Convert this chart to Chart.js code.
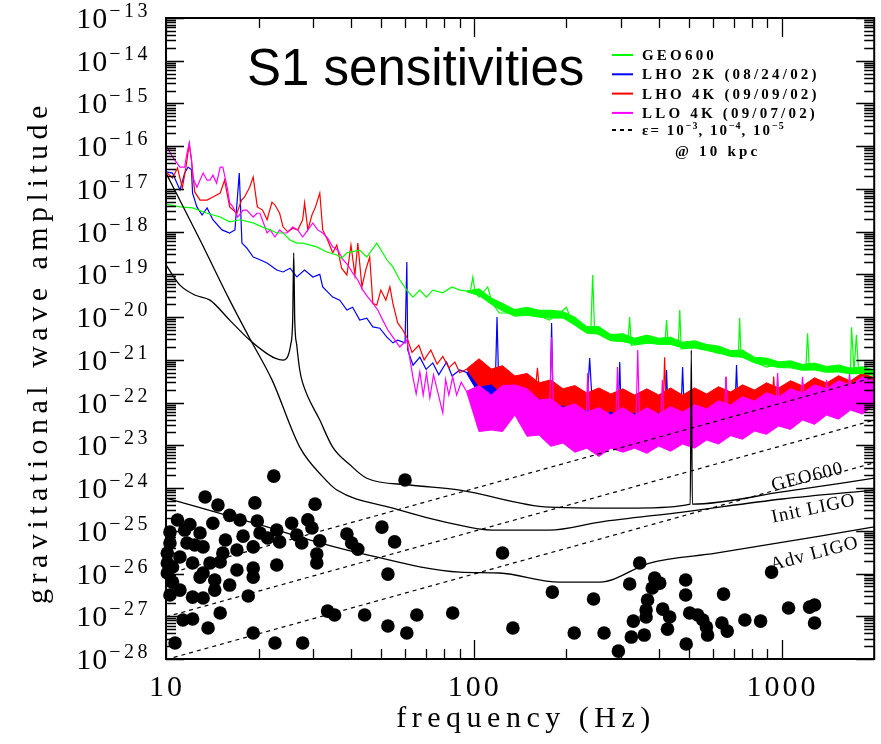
<!DOCTYPE html>
<html>
<head>
<meta charset="utf-8">
<title>S1 sensitivities</title>
<script src="https://cdn.jsdelivr.net/npm/chart.js@4.4.1/dist/chart.umd.min.js"></script>
<style>
  html, body { margin: 0; padding: 0; background: #fff; }
  #wrap { width: 881px; height: 744px; }
</style>
</head>
<body>
<div id="wrap"><canvas id="s1-chart" width="881" height="744"></canvas></div>
<script>
// axes
var xTickValues = [10, 100, 1000];
var xTickLabels = ['10', '100', '1000'];
var yTickExp = [-13, -14, -15, -16, -17, -18, -19, -20, -21, -22, -23, -24, -25, -26, -27, -28];

// legend
var legendLabels = ['GEO600', 'LHO 2K (08/24/02)', 'LHO 4K (09/09/02)', 'LLO 4K (09/07/02)'];
var epsExp = ['\u22123', '\u22124', '\u22125'];
var curveLabels = ['GEO600', 'Init LIGO', 'Adv LIGO'];

// measured spectra, center trace (Hz, strain/rtHz)
var geoFreq = [10, 11.1, 12.2, 13.6, 15.0, 16.1, 17.4, 19.2, 20.6, 21.8, 22.9, 24.0, 25.3, 26.6, 27.8, 30.9, 33.3, 35.9, 37.2, 38.7,
  42.6, 44.9, 48.4, 52.2, 54.6, 57.5, 60.6, 63.4, 66.8, 70.2, 73.6, 79.3, 84.9, 90.1, 97.5, 99.3, 101, 104, 111, 115,
  121, 138, 155, 176, 190, 200, 209, 225, 240, 243.4, 247, 277, 317, 321, 325, 373, 418, 423, 428, 462,
  467, 472, 555, 614, 724, 731, 738, 894, 1005, 1200, 1215, 1230, 1455, 1675, 1688, 1720, 1750, 1780, 2000];
var geoAmp = [4.4e-18, 3.8e-18, 3.6e-18, 2.7e-18, 2.2e-18, 1.7e-18, 1.9e-18, 1.6e-18, 1.28e-18, 1.1e-18, 9.3e-19, 9.3e-19, 6.4e-19, 5.4e-19, 5.4e-19, 4.4e-19, 3.35e-19, 2.85e-19, 2.4e-19, 3.2e-19,
  3.7e-19, 2.55e-19, 5.4e-19, 2.2e-19, 1.5e-19, 7.4e-20, 4.3e-20, 2.95e-20, 4.3e-20, 2.95e-20, 4.3e-20, 3.7e-20, 5.1e-20, 4.3e-20, 4.0e-20, 8.7e-20, 3.8e-20, 2.95e-20, 5.1e-20, 2.1e-20,
  1.25e-20, 1.25e-20, 1.25e-20, 8.5e-21, 1.25e-20, 1.7e-20, 7.3e-21, 5.0e-21, 4.6e-21, 9.7e-20, 4.4e-21, 2.9e-21, 2.6e-21, 1.0e-20, 2.2e-21, 2.5e-21, 2.4e-21, 8.5e-21, 2.4e-21, 2.4e-21,
  1.47e-20, 1.8e-21, 2.0e-21, 1.45e-21, 1.3e-21, 9.5e-21, 1.2e-21, 6.8e-22, 8.5e-22, 7.0e-22, 4.2e-21, 6.5e-22, 5.8e-22, 5.6e-22, 5.8e-21, 5.4e-22, 3.8e-21, 5.3e-22, 5.0e-22];

var lho2kFreq = [10, 10.5, 11.1, 11.5, 11.8, 12.1, 12.2, 12.6, 13.1, 13.6, 14.2, 15.2, 16.1, 16.75, 17.3, 17.65, 18.3, 19.2, 20.2, 21.3,
  22.9, 24.0, 25.3, 26.6, 28.2, 30.0, 31.6, 32.3, 34.8, 36.7, 38.7, 40.4, 42.6, 44.9, 47.0, 49.5, 52.2, 54.6, 56.6, 59.8,
  60.6, 61.0, 63.5, 66.8, 70, 73.6, 77, 81.6, 85, 90.0, 104, 114, 117.5, 119, 120.5, 124, 136, 163, 177, 179,
  181, 195, 233, 238, 243, 279, 295, 298, 301, 333, 399, 419, 423, 427, 472, 477, 482, 571, 707, 714,
  721, 1070, 1532, 2000];
var lho2kAmp = [2.5e-17, 2.35e-17, 9.4e-18, 2.35e-17, 3.25e-17, 2.8e-17, 8.0e-18, 3.8e-18, 2.45e-18, 3.6e-18, 1.9e-18, 1.1e-18, 9.3e-19, 1.1e-18, 2.35e-17, 5.4e-19, 4.15e-19, 2.55e-19, 2.2e-19, 1.85e-19,
  1.27e-19, 1.14e-19, 1.4e-19, 8.7e-20, 1.27e-19, 8.7e-20, 1.0e-19, 5.1e-20, 2.95e-20, 2.5e-20, 1.47e-20, 1.7e-20, 8.5e-21, 9.5e-21, 5.9e-21, 5.5e-21, 3.4e-21, 2.5e-21, 2.9e-21, 2.5e-21,
  1.95e-19, 1.7e-21, 7.5e-22, 1.16e-21, 6.0e-22, 8.5e-22, 4.5e-22, 8.9e-22, 4.2e-22, 5.8e-22, 4.0e-22, 3.2e-22, 2.9e-22, 1.0e-20, 2.8e-22, 2.2e-22, 1.5e-22, 1.0e-22, 9.0e-23, 7.3e-21,
  8.8e-23, 7.9e-23, 7.5e-23, 1.1e-21, 7.5e-23, 7.5e-23, 7.3e-23, 8.9e-22, 7.2e-23, 6.4e-23, 7.5e-23, 7.8e-23, 5.8e-22, 7.8e-23, 8.3e-23, 6.8e-22, 8.4e-23, 9.3e-23, 1.0e-22, 7.6e-22,
  1.0e-22, 1.4e-22, 2.0e-22, 2.45e-22];

var lho4kFreq = [10, 10.5, 10.9, 11.3, 11.6, 11.9, 12.1, 12.4, 12.9, 13.6, 14.2, 15.0, 15.5, 16.1, 17.0, 17.6, 18.0, 18.7, 19.2, 19.8,
  20.6, 21.3, 22.1, 22.6, 23.4, 24.0, 24.9, 25.8, 26.8, 27.8, 28.2, 28.9, 29.8, 30.6, 31.6, 32.3, 33.5, 34.8, 35.9, 37.2,
  38.7, 39.9, 41.1, 42.0, 43.3, 44.6, 45.9, 47.0, 48.4, 49.9, 51.8, 53.4, 54.6, 56.6, 58.8, 60.6, 63, 66.3, 69, 72.5,
  76, 79.3, 83, 86.8, 90, 94.9, 104, 114, 124, 136, 159, 161, 163, 178, 213, 255, 305, 365, 413, 417,
  421, 477, 571, 655, 660, 665, 747, 935, 943, 951, 1070, 1280, 1532, 1832, 2000];
var lho4kAmp = [2.5e-17, 1.8e-17, 3.1e-17, 1.05e-17, 3.1e-17, 1.13e-16, 4.75e-17, 8.5e-18, 5.5e-18, 5.5e-18, 6.5e-18, 8.0e-18, 1.6e-17, 3.8e-18, 2.7e-18, 5.5e-18, 6.5e-18, 1.1e-17, 1.9e-17, 3.8e-18,
  3.2e-18, 1.9e-18, 4.9e-18, 4.2e-18, 2.7e-18, 1.3e-18, 9.8e-19, 1.2e-18, 1.1e-18, 1.9e-18, 4.7e-18, 1.1e-18, 2.45e-18, 3.8e-18, 8.0e-18, 1.1e-18, 6.4e-19, 3.2e-19, 4.9e-19, 1.4e-19,
  9.7e-20, 4.9e-19, 9.7e-20, 5.4e-19, 5.1e-20, 1.3e-19, 2.55e-19, 2.1e-20, 1.9e-20, 4.3e-20, 2.5e-20, 5.1e-20, 2.1e-20, 7.3e-21, 5.0e-21, 3.4e-21, 1.5e-21, 2.2e-21, 1.0e-21, 1.7e-21,
  8.0e-22, 1.2e-21, 6.5e-22, 8.9e-22, 5.0e-22, 6.1e-22, 5.2e-22, 4.0e-22, 3.4e-22, 2.9e-22, 2.5e-22, 6.5e-22, 2.4e-22, 1.8e-22, 1.15e-22, 1.0e-22, 1.0e-22, 1.0e-22, 1.0e-22, 1.15e-21,
  1.0e-22, 1.0e-22, 1.0e-22, 1.1e-22, 4.0e-22, 1.1e-22, 1.15e-22, 1.4e-22, 4.1e-22, 1.4e-22, 1.5e-22, 1.9e-22, 2.1e-22, 2.45e-22, 2.6e-22];

var llo4kFreq = [10, 10.5, 11.1, 11.5, 11.7, 11.9, 12.1, 12.2, 12.6, 13.2, 13.6, 13.9, 14.2, 14.6, 15.0, 15.3, 15.8, 16.1, 16.5, 17.1,
  17.8, 18.3, 19.2, 19.75, 20.2, 21.3, 21.8, 22.6, 23.4, 24.0, 24.7, 25.8, 26.8, 27.8, 28.9, 30.0, 31.1, 32.3, 33.5, 34.8,
  36.2, 37.6, 39.0, 40.4, 42.0, 43.6, 45.3, 47.0, 48.8, 50.6, 52.6, 54.6, 57.5, 60.6, 63.4, 65, 66.8, 68.5, 70.2, 72,
  74, 77.6, 79.3, 81, 83, 85.4, 88, 91, 94.9, 104, 114, 124, 136, 149, 176, 179, 182, 213, 231, 234.6,
  238, 255, 289, 293, 297, 336, 341, 346, 404, 410, 416, 522, 650, 660, 670, 894, 957, 971, 985, 1150,
  1170, 1190, 1380, 1400, 1420, 1640, 1663, 1690, 2000];
var llo4kAmp = [1.07e-16, 5.6e-17, 3.25e-17, 3.25e-17, 6.9e-17, 1.19e-16, 4.75e-17, 1.9e-17, 1.1e-17, 2.35e-17, 1.6e-17, 1.6e-17, 2.1e-17, 1.37e-17, 3.25e-17, 3.25e-17, 1.1e-17, 4.7e-18, 3.8e-18, 2.2e-18,
  3.2e-18, 3.2e-18, 2.2e-18, 2.7e-18, 2.7e-18, 9.3e-19, 1.1e-18, 7.5e-19, 1.1e-18, 9.3e-19, 9.3e-19, 1.28e-18, 1.1e-18, 7.5e-19, 1.1e-18, 1.6e-18, 1.1e-18, 9.3e-19, 7.1e-19, 4.4e-19,
  3.7e-19, 2.2e-19, 1.66e-19, 1.08e-19, 7.4e-20, 4.3e-20, 2.95e-20, 2.1e-20, 1.47e-20, 8.5e-21, 5.0e-21, 3.4e-21, 2.0e-21, 2.9e-21, 4.0e-22, 1.6e-22, 5.2e-22, 1.5e-22, 4.9e-22, 1.3e-22,
  4.5e-22, 1.1e-22, 5.7e-23, 3.5e-22, 1.5e-22, 4.0e-22, 1.5e-22, 3.0e-22, 1.8e-22, 7.5e-23, 6.0e-23, 7.5e-23, 1.15e-22, 6.0e-23, 3.6e-23, 3.4e-21, 3.5e-23, 2.5e-23, 2.3e-23, 4.9e-22,
  2.2e-23, 2.05e-23, 2.2e-23, 6.8e-22, 2.2e-23, 2.2e-23, 1.7e-21, 2.2e-23, 2.3e-23, 3.4e-22, 2.3e-23, 2.8e-23, 3.5e-23, 4.0e-22, 3.6e-23, 5.7e-23, 6.0e-23, 4.9e-22, 6.2e-23, 8.2e-23,
  4.0e-22, 8.4e-23, 1.0e-22, 3.4e-22, 1.0e-22, 1.3e-22, 4.9e-22, 1.3e-22, 1.7e-22];

// noise band envelopes above ~95 Hz, shared frequency grid
var bandFreq = [94.9, 104, 114, 124, 136, 149, 163, 178, 195, 213, 233, 255, 279, 305, 333, 365, 399, 436, 477, 522,
  571, 624, 683, 747, 817, 894, 978, 1070, 1170, 1280, 1400, 1532, 1675, 1832, 2000];
var geoHigh = [4.1e-20, 4.6e-20, 2.8e-20, 2.1e-20, 1.5e-20, 1.7e-20, 1.45e-20, 1.45e-20, 1.35e-20, 1.0e-20, 6.0e-21, 6.0e-21, 3.9e-21, 4.1e-21, 3.2e-21, 3.8e-21, 3.2e-21, 3.4e-21, 2.6e-21, 2.8e-21,
  2.3e-21, 2.1e-21, 1.65e-21, 1.7e-21, 1.15e-21, 1.1e-21, 9.0e-22, 9.5e-22, 7.8e-22, 8.4e-22, 7.0e-22, 7.6e-22, 6.4e-22, 6.9e-22, 5.8e-22];
var geoLow = [3.9e-20, 3.2e-20, 2.0e-20, 1.4e-20, 1.05e-20, 1.1e-20, 1.0e-20, 9.5e-21, 9.5e-21, 6.5e-21, 4.2e-21, 4.0e-21, 2.8e-21, 2.7e-21, 2.3e-21, 2.5e-21, 2.3e-21, 2.3e-21, 1.9e-21, 1.9e-21,
  1.65e-21, 1.45e-21, 1.2e-21, 1.15e-21, 8.5e-22, 7.6e-22, 6.6e-22, 6.5e-22, 5.7e-22, 5.8e-22, 5.1e-22, 5.2e-22, 4.7e-22, 4.8e-22, 4.3e-22];
var lho2kHigh = [5.0e-22, 7.6e-22, 5.5e-22, 5.2e-22, 3.4e-22, 3.2e-22, 2.3e-22, 2.3e-22, 1.8e-22, 1.77e-22, 1.45e-22, 1.42e-22, 1.2e-22, 1.15e-22, 1.05e-22, 1.21e-22, 1.15e-22, 1.28e-22, 1.25e-22, 1.42e-22,
  1.4e-22, 1.59e-22, 1.55e-22, 1.77e-22, 1.75e-22, 1.97e-22, 1.95e-22, 2.2e-22, 2.2e-22, 2.58e-22, 2.6e-22, 2.88e-22, 2.9e-22, 3.4e-22, 3.4e-22];
var lho2kLow = [4.8e-22, 1.57e-22, 1.5e-22, 6.3e-23, 6.0e-23, 3.1e-23, 3.5e-23, 2.15e-23, 3.15e-23, 2.15e-23, 3.5e-23, 2.8e-23, 4.35e-23, 2.5e-23, 3.3e-23, 2.65e-23, 4.35e-23, 3.5e-23, 5.1e-23, 3.9e-23,
  5.7e-23, 4.3e-23, 6.35e-23, 4.8e-23, 7.5e-23, 5.6e-23, 8.4e-23, 6.6e-23, 9.8e-23, 7.8e-23, 1.15e-22, 9.1e-23, 1.35e-22, 1.07e-22, 1.59e-22];
var lho4kHigh = [6.2e-22, 1.06e-21, 6.1e-22, 7.3e-22, 4.2e-22, 4.8e-22, 2.9e-22, 3.4e-22, 2.1e-22, 2.5e-22, 1.68e-22, 2.2e-22, 1.59e-22, 2.1e-22, 1.5e-22, 2.1e-22, 1.5e-22, 2.2e-22, 1.5e-22, 2.2e-22,
  1.59e-22, 2.35e-22, 1.77e-22, 2.6e-22, 1.97e-22, 2.9e-22, 2.2e-22, 3.25e-22, 2.45e-22, 3.8e-22, 2.88e-22, 4.25e-22, 3.2e-22, 5.0e-22, 3.77e-22];
var lho4kLow = [6.0e-22, 2.4e-22, 2.73e-22, 1.57e-22, 1.87e-22, 1.14e-22, 1.28e-22, 7.8e-23, 8.8e-23, 5.6e-23, 7.1e-23, 4.8e-23, 6.35e-23, 4.3e-23, 6.0e-23, 4.5e-23, 6.0e-23, 4.3e-23, 6.35e-23, 4.5e-23,
  6.7e-23, 4.8e-23, 7.1e-23, 5.4e-23, 8.4e-23, 6.3e-23, 9.3e-23, 7.4e-23, 1.09e-22, 8.6e-23, 1.28e-22, 1.01e-22, 1.5e-22, 1.14e-22, 1.77e-22];
var llo4kHigh = [1.85e-22, 2.5e-22, 1.5e-22, 2.5e-22, 2.58e-22, 2.1e-22, 1.15e-22, 1.23e-22, 7.5e-23, 9.4e-23, 6.0e-23, 7.6e-23, 5.1e-23, 7.6e-23, 5.1e-23, 7.6e-23, 5.4e-23, 8.0e-23, 6.0e-23, 8.9e-23,
  7.1e-23, 1.1e-22, 8.8e-23, 1.37e-22, 1.09e-22, 1.7e-22, 1.35e-22, 2.1e-22, 1.68e-22, 2.6e-22, 2.08e-22, 3.25e-22, 2.58e-22, 4.0e-22, 3.2e-22];
var llo4kLow = [1.75e-22, 2.1e-23, 2.28e-23, 2.1e-23, 5.1e-23, 1.63e-23, 1.74e-23, 9.5e-24, 1.13e-23, 6.9e-24, 8.6e-24, 5.5e-24, 8.6e-24, 6.9e-24, 8.6e-24, 6.5e-24, 9.6e-24, 7.3e-24, 1.07e-23, 8.6e-24,
  1.33e-23, 1.07e-23, 1.68e-23, 1.39e-23, 2.16e-23, 1.81e-23, 2.83e-23, 2.36e-23, 3.9e-23, 3.1e-23, 5.1e-23, 4.1e-23, 6.7e-23, 5.4e-23, 8.8e-23];

// design curves
var geoDesignFreq = [10, 11.1, 12.4, 13.9, 16.1, 18.7, 21.0, 22.6, 24.0, 24.9, 25.4, 25.8, 26.0, 26.2, 26.6, 27.2, 27.8, 31.6, 34.8, 39.6,
  44.9, 61.9, 90.1, 176, 338, 505, 509, 513, 1005, 2000];
var geoDesignAmp = [1.66e-19, 5.6e-20, 3.3e-20, 2.5e-20, 8.5e-21, 2.9e-21, 1.5e-21, 1.1e-21, 9.9e-22, 1.23e-21, 2.2e-21, 8.5e-21, 3.2e-19, 8.5e-21, 2.2e-21, 5.8e-22, 2.9e-22, 3.9e-23, 9.1e-24, 3.5e-24,
  1.7e-24, 1.18e-24, 9.0e-25, 3.6e-25, 3.4e-25, 4.2e-25, 1.7e-21, 4.2e-25, 8.1e-25, 1.7e-24];
var initLigoFreq = [10, 12.9, 16.1, 18.7, 22.1, 27.2, 32.4, 35.9, 54.6, 83.6, 115, 176, 257, 477, 1005, 2000];
var initLigoAmp = [2.36e-17, 6.4e-19, 2.5e-20, 3.2e-21, 3.4e-22, 9.1e-24, 1.8e-24, 9.0e-25, 3.4e-25, 1.52e-25, 1.04e-25, 1.04e-25, 1.6e-25, 2.75e-25, 5.55e-25, 9.0e-25];
var advLigoFreq = [10, 20.2, 31.6, 42.6, 90.1, 121, 190, 257, 373, 612, 2000];
var advLigoAmp = [5.85e-25, 1.37e-25, 5.2e-26, 3.0e-26, 1.08e-26, 1.03e-26, 6.3e-27, 6.3e-27, 1.76e-26, 3.0e-26, 1.23e-25];

// pulsar ellipticity lines at 10 kpc
var epsFreq = [10, 2000];
var eps3Amp = [9.7e-27, 3.9e-22];
var eps4Amp = [9.7e-28, 3.9e-23];
var eps5Amp = [9.7e-29, 3.9e-24];

// known pulsars
var dotFreq = [22.4, 13.4, 14.75, 19.45, 30.5, 16.1, 19.8, 28.9, 11.96, 14.2,
  10.3, 12.9, 17.8, 20.2, 22.9, 25.6, 29.8, 50.3, 38.7, 26.6,
  31.6, 27.6, 23.4, 19.2, 55.3, 40.1, 42.0, 10.3, 11.7, 13.2,
  17.0, 15.3, 10.1, 30.9, 30.9, 22.9, 12.2, 15.0, 10.5, 10.1,
  13.2, 17.0, 19.2, 19.2, 14.4, 10.5, 12.9, 52.6, 10.3, 18.5,
  14.4, 12.2, 13.2, 15.0, 33.5, 35.3, 44.2, 65.3, 85.4, 11.35,
  12.2, 52.6, 13.7, 19.2, 60.6, 10.7, 22.6, 27.8, 59.8, 11.5,
  11.1, 13.9, 10.9, 12.4, 10.1, 15.6, 11.1, 17.4, 21.4, 16.1,
  124, 346, 928, 321, 387, 402, 380, 488, 180, 488,
  648, 245, 367, 363, 411, 433, 1054, 1233, 1280, 363,
  503, 534, 555, 570, 640, 666, 760, 855, 1280, 330,
  426, 134, 212, 265, 358, 325, 575, 295, 490];
var dotAmp = [1.9e-24, 6.2e-25, 4.0e-25, 4.5e-25, 4.2e-25, 2.3e-25, 1.7e-25, 1.8e-25, 1.4e-25, 1.5e-25,
  9.4e-26, 8.9e-26, 7.5e-26, 8.9e-26, 1.04e-25, 1.5e-25, 1.16e-25, 1.22e-25, 8.4e-26, 8.0e-26,
  5.8e-26, 5.2e-26, 5.5e-26, 4.2e-26, 5.5e-26, 5.2e-26, 3.7e-26, 5.2e-26, 5.2e-26, 4.2e-26,
  3.55e-26, 3.0e-26, 3.0e-26, 2.86e-26, 1.76e-26, 1.58e-26, 1.76e-26, 1.86e-26, 1.42e-26, 1.03e-26,
  1.03e-26, 1.21e-26, 1.35e-26, 8.25e-27, 7.05e-27, 6.3e-27, 8.25e-27, 9.7e-27, 3.14e-27, 2.97e-27,
  4.1e-27, 2.8e-27, 2.67e-27, 1.19e-27, 1.32e-27, 1.07e-27, 1.07e-27, 1.07e-27, 1.19e-27, 8.15e-28,
  8.6e-28, 5.9e-28, 5.3e-28, 4.05e-28, 4.05e-28, 2.36e-28, 2.36e-28, 2.36e-28, 1.54e-24, 1.04e-25,
  2.43e-26, 1.76e-26, 1.79e-25, 4.65e-26, 1.76e-26, 6.1e-26, 4.1e-27, 1.79e-25, 6.77e-26, 5.37e-27,
  3.02e-26, 1.76e-26, 1.08e-26, 5.67e-27, 7.85e-27, 5.98e-27, 4.57e-27, 7.05e-27, 3.68e-27, 3.14e-27,
  3.3e-27, 2.53e-27, 2.4e-27, 1.4e-27, 1.47e-27, 9.6e-28, 1.56e-27, 1.64e-27, 1.83e-27, 9.6e-28,
  1.19e-27, 1.07e-27, 8.15e-28, 5.6e-28, 6.95e-28, 4.5e-28, 8.15e-28, 7.7e-28, 6.95e-28, 7.7e-28,
  5.0e-28, 5.3e-28, 4.05e-28, 4.05e-28, 3.63e-28, 3.26e-28, 3.63e-28, 1.53e-28, 2.24e-28];

var GREEN = '#00ff00', BLUE = '#0000ff', RED = '#ff0000', MAGENTA = '#ff00ff';
var legendColors = [GREEN, BLUE, RED, MAGENTA];

function pts(xs, ys) {
  var out = [];
  for (var i = 0; i < xs.length; i++) out.push({ x: xs[i], y: ys[i] });
  return out;
}

function traceSet(label, xs, ys, color, order) {
  return { label: label, data: pts(xs, ys), borderColor: color, borderWidth: 1.2, pointRadius: 0, fill: false, order: order };
}
function bandLow(xs, ys, color, order) {
  return { label: '', data: pts(xs, ys), borderColor: color, borderWidth: 1, pointRadius: 0, fill: false, order: order };
}
function bandHigh(xs, ys, color, order) {
  return { label: '', data: pts(xs, ys), borderColor: color, borderWidth: 1, pointRadius: 0, fill: '-1', backgroundColor: color, order: order };
}
function designSet(xs, ys) {
  return { label: '', data: pts(xs, ys), borderColor: '#000', borderWidth: 1.3, pointRadius: 0, fill: false, cubicInterpolationMode: 'monotone', order: 10 };
}
function epsSet(xs, ys) {
  return { label: '', data: pts(xs, ys), borderColor: '#000', borderWidth: 1.2, borderDash: [4, 4], pointRadius: 0, fill: false, order: 15 };
}

// text with letter spacing
function spaced(ctx, text, x, y, font, spacing, align) {
  ctx.font = font;
  ctx.letterSpacing = spacing + 'px';
  ctx.textAlign = align || 'left';
  ctx.fillText(text, x, y);
  ctx.letterSpacing = '0px';
}
function textWidth(ctx, text, font, spacing) {
  ctx.font = font;
  ctx.letterSpacing = spacing + 'px';
  var w = ctx.measureText(text).width;
  ctx.letterSpacing = '0px';
  return w;
}

var frameAndText = {
  id: 'frameAndText',
  afterDraw: function (chart) {
    var ctx = chart.ctx, a = chart.chartArea;
    var xs = chart.scales.x, ys = chart.scales.y;
    ctx.save();
    ctx.strokeStyle = '#000';
    ctx.fillStyle = '#000';
    ctx.textBaseline = 'alphabetic';

    // log ticks on all four sides, pointing in
    ctx.lineWidth = 1.3;
    ctx.beginPath();
    for (var e = 1; e <= 3; e++) {
      for (var m = 1; m <= 9; m++) {
        var v = m * Math.pow(10, e);
        if (v >= xs.max) break;
        var px = Math.round(xs.getPixelForValue(v)) + 0.5;
        var len = m === 1 ? 19 : 10;
        ctx.moveTo(px, a.bottom); ctx.lineTo(px, a.bottom - len);
        ctx.moveTo(px, a.top); ctx.lineTo(px, a.top + len);
      }
    }
    for (var n = 28; n >= 13; n--) {
      for (var k = 1; k <= 9; k++) {
        var w = k * Math.pow(10, -n);
        if (w > ys.max * 1.001) break;
        var py = Math.round(ys.getPixelForValue(w)) + 0.5;
        var len2 = k === 1 ? 18 : 10;
        ctx.moveTo(a.left, py); ctx.lineTo(a.left + len2, py);
        ctx.moveTo(a.right, py); ctx.lineTo(a.right - len2, py);
      }
    }
    ctx.stroke();
    ctx.lineWidth = 2;
    ctx.strokeRect(a.left, a.top, a.right - a.left, a.bottom - a.top);

    // tick labels
    var serif = '"Liberation Serif", "DejaVu Serif", serif';
    xTickValues.forEach(function (val, i) {
      spaced(ctx, xTickLabels[i], xs.getPixelForValue(val) + 1, a.bottom + 37, '30px ' + serif, 3, 'center');
    });
    var baseFont = '30px ' + serif, expFont = '20px ' + serif;
    yTickExp.forEach(function (p) {
      var y = ys.getPixelForValue(Math.pow(10, p));
      var ex = '\u2212' + String(-p);
      var we = textWidth(ctx, ex, expFont, 3.5);
      var wb = textWidth(ctx, '10', baseFont, 1);
      spaced(ctx, ex, 151 - we, y - 1, expFont, 3.5, 'left');
      spaced(ctx, '10', 151 - we - wb - 1, y + 10, baseFont, 1, 'left');
    });

    // axis titles
    spaced(ctx, 'frequency (Hz)', 526, 727, '30px ' + serif, 5.5, 'center');
    ctx.save();
    ctx.translate(47, 352);
    ctx.rotate(-Math.PI / 2);
    spaced(ctx, 'gravitational wave amplitude', 0, 0, '30px ' + serif, 5.5, 'center');
    ctx.restore();

    // title
    ctx.font = '51px "Liberation Sans", Arial, sans-serif';
    ctx.textAlign = 'left';
    ctx.fillText('S1 sensitivities', 247, 85);

    // legend
    var legFont = 'bold 15px ' + serif;
    legendLabels.forEach(function (lbl, i) {
      var y = 55 + i * 19.3;
      ctx.strokeStyle = legendColors[i];
      ctx.lineWidth = 2;
      ctx.beginPath(); ctx.moveTo(612, y); ctx.lineTo(633, y); ctx.stroke();
      spaced(ctx, lbl, 642, y + 5, legFont, 3.2, 'left');
    });
    var ey = 130;
    ctx.strokeStyle = '#000';
    ctx.lineWidth = 2;
    ctx.setLineDash([4, 4]);
    ctx.beginPath(); ctx.moveTo(612, ey); ctx.lineTo(634, ey); ctx.stroke();
    ctx.setLineDash([]);
    var supFont = 'bold 10px ' + serif;
    var cx = 642;
    spaced(ctx, '\u03b5= 10', cx, ey + 5, legFont, 2, 'left');
    cx += textWidth(ctx, '\u03b5= 10', legFont, 2);
    epsExp.forEach(function (s, i) {
      spaced(ctx, s, cx, ey - 1, supFont, 1, 'left');
      cx += textWidth(ctx, s, supFont, 1);
      if (i < epsExp.length - 1) {
        spaced(ctx, ', 10', cx, ey + 5, legFont, 2, 'left');
        cx += textWidth(ctx, ', 10', legFont, 2);
      }
    });
    spaced(ctx, '@ 10 kpc', 675, 156, legFont, 3.2, 'left');

    // design curve labels, anchored in data space
    var anchors = [[1215, 1.8e-24, -14], [1270, 3.24e-25, -12], [1280, 2.86e-26, -15]];
    curveLabels.forEach(function (lbl, i) {
      ctx.save();
      ctx.translate(xs.getPixelForValue(anchors[i][0]), ys.getPixelForValue(anchors[i][1]));
      ctx.rotate(anchors[i][2] * Math.PI / 180);
      ctx.fillStyle = '#000';
      ctx.textBaseline = 'middle';
      spaced(ctx, lbl, 0, 0, '19px ' + serif, 1, 'center');
      ctx.restore();
    });
    ctx.restore();
  }
};

var datasets = [
  { label: 'pulsars', data: pts(dotFreq, dotAmp), showLine: false, pointRadius: 6.8, pointBackgroundColor: '#000', pointBorderWidth: 0, clip: false, order: 0 },
  designSet(geoDesignFreq, geoDesignAmp),
  designSet(initLigoFreq, initLigoAmp),
  designSet(advLigoFreq, advLigoAmp),
  epsSet(epsFreq, eps3Amp),
  epsSet(epsFreq, eps4Amp),
  epsSet(epsFreq, eps5Amp),
  traceSet(legendLabels[0], geoFreq, geoAmp, GREEN, 30),
  bandLow(bandFreq, geoLow, GREEN, 31),
  bandHigh(bandFreq, geoHigh, GREEN, 31),
  traceSet(legendLabels[3], llo4kFreq, llo4kAmp, MAGENTA, 40),
  bandLow(bandFreq, llo4kLow, MAGENTA, 41),
  bandHigh(bandFreq, llo4kHigh, MAGENTA, 41),
  traceSet(legendLabels[2], lho4kFreq, lho4kAmp, RED, 50),
  bandLow(bandFreq, lho4kLow, RED, 51),
  bandHigh(bandFreq, lho4kHigh, RED, 51),
  traceSet(legendLabels[1], lho2kFreq, lho2kAmp, BLUE, 60),
  bandLow(bandFreq, lho2kLow, BLUE, 61),
  bandHigh(bandFreq, lho2kHigh, BLUE, 61)
];

var ctx = document.getElementById('s1-chart').getContext('2d');
var s1Chart = new Chart(ctx, {
  type: 'line',
  data: { datasets: datasets },
  options: {
    responsive: false,
    devicePixelRatio: 1,
    animation: false,
    events: [],
    layout: { padding: { left: 166, right: 6, top: 18, bottom: 85 } },
    elements: { line: { tension: 0 }, point: { radius: 0 } },
    plugins: { legend: { display: false }, tooltip: { enabled: false } },
    scales: {
      x: { type: 'logarithmic', min: 10, max: 2000, display: false },
      y: { type: 'logarithmic', min: 1e-28, max: 1e-13, display: false }
    }
  },
  plugins: [frameAndText]
});
</script>
</body>
</html>
